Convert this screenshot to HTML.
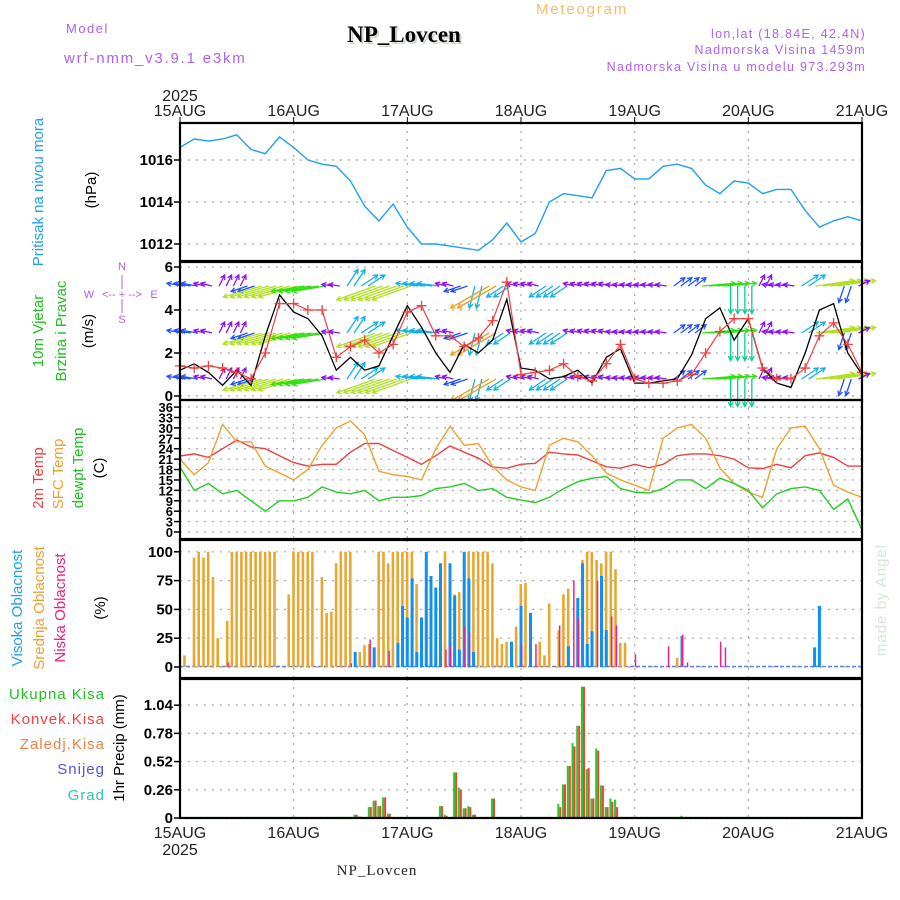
<!DOCTYPE html>
<html><head><meta charset="utf-8"><style>
html,body{margin:0;padding:0;background:#fff;}
svg{display:block;font-family:"Liberation Sans",sans-serif;}
</style></head><body>
<svg id="chart" width="900" height="900" viewBox="0 0 900 900" xmlns="http://www.w3.org/2000/svg">
<g>
<text x="66" y="33" font-size="13" fill="#b060f0" letter-spacing="1.5">Model</text>
<text x="64" y="63" font-size="15" fill="#b060f0" letter-spacing="1.8">wrf-nmm_v3.9.1 e3km</text>
<text x="406" y="44" font-size="23" font-weight="bold" font-family="Liberation Serif,serif" fill="#ccd6cc" text-anchor="middle">NP_Lovcen</text>
<text x="404" y="42" font-size="23" font-weight="bold" font-family="Liberation Serif,serif" fill="#000" text-anchor="middle">NP_Lovcen</text>
<text x="582" y="14" font-size="15" fill="#f0c070" letter-spacing="1.8" text-anchor="middle">Meteogram</text>
<text x="866" y="38" font-size="12.5" fill="#b060f0" letter-spacing="1.3" text-anchor="end">lon,lat (18.84E, 42.4N)</text>
<text x="866" y="54" font-size="12.5" fill="#b060f0" letter-spacing="1.3" text-anchor="end">Nadmorska Visina 1459m</text>
<text x="866" y="71" font-size="12.5" fill="#b060f0" letter-spacing="1.3" text-anchor="end">Nadmorska Visina u modelu 973.293m</text>
<text x="180" y="101" font-size="16" fill="#222" text-anchor="middle">2025</text>
<text x="180" y="855" font-size="16" fill="#222" text-anchor="middle">2025</text>
<text x="377" y="875" font-size="15" font-family="Liberation Serif,serif" fill="#222" text-anchor="middle" letter-spacing="1">NP_Lovcen</text>
<text transform="translate(886,600) rotate(-90)" font-size="15" fill="#d8e4d8" text-anchor="middle" letter-spacing="1">made by Angel</text>
</g>
<g id="grid"></g>
<g id="marks"></g>
<g id="axes"></g>
<g font-size="15">
<text transform="translate(43,192) rotate(-90)" fill="#20a0f0" text-anchor="middle">Pritisak na nivou mora</text>
<text transform="translate(96,190) rotate(-90)" fill="#000" text-anchor="middle">(hPa)</text>
<text transform="translate(43,331) rotate(-90)" fill="#20c020" text-anchor="middle">10m Vjetar</text>
<text transform="translate(66,331) rotate(-90)" fill="#20c020" text-anchor="middle">Brzina i Pravac</text>
<text transform="translate(93,331) rotate(-90)" fill="#000" text-anchor="middle">(m/s)</text>
<g fill="#b060f0" font-size="11" text-anchor="middle">
<text x="122" y="270">N</text><text x="122" y="323">S</text><text x="89" y="298">W</text><text x="154" y="298">E</text>
<text x="122" y="298">&lt;-- + --&gt;</text>
<line x1="122" y1="275" x2="122" y2="289" stroke="#b060f0"/><line x1="122" y1="299" x2="122" y2="313" stroke="#b060f0"/>
</g>
<text transform="translate(43,478) rotate(-90)" fill="#f04040" text-anchor="middle">2m Temp</text>
<text transform="translate(63,474) rotate(-90)" fill="#f0a030" text-anchor="middle">SFC Temp</text>
<text transform="translate(83,468) rotate(-90)" fill="#20c020" text-anchor="middle">dewpt Temp</text>
<text transform="translate(104,468) rotate(-90)" fill="#000" text-anchor="middle">(C)</text>
<text transform="translate(22,608) rotate(-90)" fill="#20a0f0" text-anchor="middle">Visoka Oblacnost</text>
<text transform="translate(44,608) rotate(-90)" fill="#f0a030" text-anchor="middle">Srednja Oblacnost</text>
<text transform="translate(65,608) rotate(-90)" fill="#f0207f" text-anchor="middle">Niska Oblacnost</text>
<text transform="translate(105,608) rotate(-90)" fill="#000" text-anchor="middle">(%)</text>
<g text-anchor="end" letter-spacing="1">
<text x="105" y="699" fill="#20c020">Ukupna  Kisa</text>
<text x="105" y="724" fill="#f04040">Konvek.Kisa</text>
<text x="105" y="749" fill="#f08040">Zaledj.Kisa</text>
<text x="105" y="774" fill="#5050f0">Snijeg</text>
<text x="105" y="800" fill="#30c0c0">Grad</text>
</g>
<text transform="translate(124,748) rotate(-90)" fill="#000" text-anchor="middle">1hr Precip (mm)</text>
</g>
</svg>
<script>
// ---- data (3-hourly for lines, hourly for bars) ----
const dayLabels = ["15AUG","16AUG","17AUG","18AUG","19AUG","20AUG","21AUG"];
const pressureTicks = [1012,1014,1016];
const windTicks = [0,2,4,6];
const tempTicks = [0,3,6,9,12,15,18,21,24,27,30,33,36];
const cloudTicks = [0,25,50,75,100];
const precipTicks = ["0","0.26","0.52","0.78","1.04"];
const pressure = [1016.6,1017.0,1016.9,1017.0,1017.2,1016.5,1016.3,1017.1,1016.6,1016.0,1015.8,1015.7,1015.0,1013.8,1013.1,1013.9,1012.8,1012.0,1012.0,1011.9,1011.8,1011.7,1012.2,1013.0,1012.1,1012.5,1014.0,1014.4,1014.3,1014.2,1015.5,1015.6,1015.1,1015.1,1015.7,1015.8,1015.6,1014.8,1014.4,1015.0,1014.9,1014.4,1014.6,1014.6,1013.6,1012.8,1013.1,1013.3,1013.1];
const windSpeed = [1.2,1.5,1.1,0.5,1.2,0.5,2.8,4.7,3.9,3.6,2.8,1.2,1.8,1.2,1.4,2.8,4.2,3.2,2.0,1.1,2.4,2.0,2.6,4.5,1.3,1.2,0.8,0.9,1.2,0.6,1.8,2.2,0.6,0.6,0.7,0.8,1.9,3.6,4.1,2.6,3.6,1.3,0.6,0.4,2.0,4.0,4.3,2.0,1.0];
const windGust = [1.4,1.3,1.4,1.3,1.1,0.8,2.0,4.3,4.3,4.0,4.0,1.8,2.3,2.6,2.0,2.4,3.9,4.2,2.8,2.8,2.3,2.7,3.5,5.3,1.0,1.1,1.2,1.5,0.9,0.7,1.5,2.4,0.8,0.6,0.6,0.7,1.0,2.0,3.0,3.6,3.6,1.3,0.8,0.8,1.3,2.8,3.4,2.4,1.1];
const windU = [-3,-3,-2,1,1,-3,-7,-7,-7,-6,-6,-2,2,3,-7,-7,-7,-4,-4,-2,-3,-1,-7,-3,-2,-2,-3,-3,-2,-2,-2,-2,-2,-2,-2,2,2,6,6,0,0,1,-2,-2,3,7,7,-1,2];
const windV = [0.5,0.5,0.5,2,2,-1,-2,-2,-2,-1,-1,0.3,3,2,-2.5,-2.5,-2.5,0.5,0.5,0.5,-1,-4,-4,-2,0.5,0.5,-2,-2,0.5,0.5,0.5,0.3,0.3,0.3,0.3,1.5,1.5,0.5,0.5,-5,-5,2,0.3,0.3,2,1,1,-3,1];
const temp2m = [21.9,22.5,21.5,24,26.5,24.5,24,22,20,19,19.5,19.5,23,25.5,25.5,23.5,21.5,19.5,22,24.8,23,21.3,18.7,18.4,19.5,19.8,23,22.5,22.2,20.5,18.8,18.4,19.5,18.5,19.5,22,22.5,22.5,22,21,18.5,18.3,19.5,18.5,22,22.8,21.5,19,19];
const tempSfc = [21,16.5,20,31,26,26,19,17,15,18,25,30,32,28,17.5,16.5,16,15,24,30.5,25,25.5,19,15,13,12,25,27,26,22,17,15,13.5,12,27,30,31,27,18.5,14,11.5,10,24,30,30.5,24,13.5,11.5,10];
const dewpt = [18.7,12,14,11,12,9,6,9,9,10,13,11.5,11,12,9,10,10,10.5,12.5,13,14,12,12.5,10,9.2,8.5,10,12.5,14.5,15.5,16,12.5,11.5,11.2,12.5,15,15,12.5,15.5,14,12,7,11,12.5,13,12,6.5,9.5,0.6];
const cloudMid = [0,10,0,95,100,95,100,78,25,0,40,100,100,100,100,100,100,100,100,100,100,0,0,63,100,100,100,100,100,0,78,47,48,90,100,100,100,0,13,19,20,0,100,100,90,100,100,100,100,100,72,21,68,68,10,53,100,27,63,65,67,100,100,100,100,100,90,25,20,22,22,35,72,73,47,0,22,10,55,0,32,63,68,0,50,93,100,100,93,90,100,100,85,21,21,0,0,0,0,0,0,0,0,0,0,8,0,0,0,0,0,0,0,0,0,0,0,0,0,0,0,0,0,0,0,0,0,0,0,0,0,0,0,0,0,0,0,0,0,0,0,0,0,0,0];
const cloudHigh = [0,0,0,0,0,0,0,0,0,0,0,0,0,0,0,0,0,0,0,0,0,0,0,0,0,0,0,0,0,0,0,0,0,0,0,0,0,13,0,0,0,17,0,0,0,0,21,53,43,77,13,43,100,79,69,90,0,90,62,15,100,77,13,0,0,0,0,0,0,0,22,0,53,0,47,0,0,0,0,0,0,0,18,0,60,90,20,31,0,79,32,0,0,0,0,0,0,0,0,0,0,0,0,0,0,0,27,0,0,0,0,0,0,0,0,0,0,0,0,0,0,0,0,0,0,0,0,0,0,0,0,0,0,0,17,53,0,0,0,0,0];
const cloudLow = [0,0,0,0,0,0,0,0,0,0,4,0,0,0,0,0,0,0,0,0,0,0,0,0,0,0,0,0,0,0,0,0,0,0,0,0,3,0,0,0,24,0,0,0,14,0,0,0,0,0,0,0,0,0,0,0,15,18,0,0,35,30,0,0,0,0,0,0,0,0,0,0,20,0,0,20,0,0,0,0,36,0,0,75,42,0,0,0,75,0,0,44,36,0,0,0,11,0,0,0,0,0,0,18,0,0,28,4,0,0,0,0,0,0,22,17,0,0,0,0,0,0,0,0,0,0,1,0,0,0,0,0,0,0,0,0,0,0,0,0,0];
const precipTotal = [0,0,0,0,0,0,0,0,0,0,0,0,0,0,0,0,0,0,0,0,0,0,0,0,0,0,0,0,0,0,0,0,0,0,0.01,0,0,0.03,0.015,0,0.1,0.16,0.11,0.19,0.04,0,0,0,0,0,0,0,0,0,0,0.11,0.03,0,0.42,0.28,0.09,0.11,0.03,0,0,0,0.18,0,0,0,0,0,0,0,0,0,0,0,0,0,0.13,0.31,0.48,0.69,0.85,1.21,0.45,0.18,0.64,0.3,0.1,0.18,0.17,0,0,0,0,0,0,0,0,0,0,0,0,0,0.02,0,0,0,0,0,0,0,0,0,0,0,0,0,0,0,0,0,0,0,0,0,0,0,0,0,0,0,0,0,0,0,0,0,0,0,0,0,0,0,0,0,0,0];
const precipConv = [0,0,0,0,0,0,0,0,0,0,0,0,0,0,0,0,0,0,0,0,0,0,0,0,0,0,0,0,0,0,0,0,0,0,0,0,0,0.03,0.01,0,0.1,0.16,0.11,0.19,0.04,0,0,0,0,0,0,0,0,0,0,0.11,0.02,0,0.42,0.26,0.09,0.1,0.03,0,0,0,0.18,0,0,0,0,0,0,0,0,0,0,0,0,0,0.1,0.31,0.48,0.66,0.85,1.21,0.46,0.18,0.62,0.3,0.1,0.15,0.1,0,0,0,0,0,0,0,0,0,0,0,0,0,0.01,0,0,0,0,0,0,0,0,0,0,0,0,0,0,0,0,0,0,0,0,0,0,0,0,0,0,0,0,0,0,0,0,0,0,0,0,0,0,0,0,0,0,0];

// ---- scales ----
const X0=180, X1=862, HOURS=144;
const xh = h => X0 + h*(X1-X0)/HOURS;
const x3 = i => xh(i*3);
const yP = p => 160 - (p-1016)*21;
const yW = s => 396 - s*21.5;
const yT = t => 532 - t*3.47;
const yC = c => 667 - c*1.152;
const yR = p => 818 - p*108.5;
const panels = [[123,261],[262,400],[400,539],[540,678],[679,818]];
const NS="http://www.w3.org/2000/svg";
function mk(tag, attrs, parent){const e=document.createElementNS(NS,tag);for(const k in attrs)e.setAttribute(k,attrs[k]);parent.appendChild(e);return e;}
const grid=document.getElementById('grid'), marks=document.getElementById('marks'), axes=document.getElementById('axes');
const dash={stroke:"#a8a8a8","stroke-width":1.2,"stroke-dasharray":"2 6"};

dayLabels.forEach((d,i)=>{
  const x=xh(i*24);
  panels.forEach(p=>{ if(i>0&&i<6){const l=mk('line',Object.assign({x1:x,x2:x,y1:p[0],y2:p[1]},dash),grid);
    
    }});
  const t1=mk('text',{x:x,y:116,'font-size':16,'text-anchor':'middle',fill:'#222'},axes);t1.textContent=d;
  
  
  const t2=mk('text',{x:x,y:838,'font-size':16,'text-anchor':'middle',fill:'#222'},axes);t2.textContent=d;
  
  
  const tk=mk('line',{x1:x,x2:x,y1:117,y2:123,stroke:'#000'},axes);
  
  
});
function yTicks(vals, fy, fs){
  vals.forEach(v=>{
    const y=fy(parseFloat(v));
    const g=mk('line',Object.assign({x1:X0,x2:X1,y1:y,y2:y},dash),grid);
    
    
    mk('line',{x1:X0-6,x2:X0,y1:y,y2:y,stroke:'#000','stroke-width':1.5},axes);
    const t=mk('text',{x:X0-7,y:y+5,'font-size':fs||15,'text-anchor':'end',fill:'#000','font-weight':'bold'},axes);
    t.textContent=v;
    
    
  });
}
yTicks(pressureTicks,yP);
yTicks(windTicks,yW);
yTicks(tempTicks,yT,13);
yTicks(cloudTicks,yC);
yTicks(precipTicks,yR);

function line(arr, fy, color, name, w){
  const pts=arr.map((v,i)=>x3(i).toFixed(1)+','+fy(v).toFixed(1)).join(' ');
  const p=mk('polyline',{points:pts,fill:'none',stroke:color,'stroke-width':w||1.4},marks);
  
  
}
line(pressure,yP,'#20a0f0','pressure-line');

function windColor(s){ if(s<2.5)return '#8a10f0'; if(s<3.5)return '#2050ff'; if(s<4.5)return '#10b0e8'; if(s<5.5)return '#00d090'; if(s<6.5)return '#30e010'; if(s<7.5)return '#b0e020'; return '#f0a020';}
const rows=[286,333,379];
rows.forEach(ry=>{
  windU.forEach((u,i)=>{
    const v=windV[i], s=Math.hypot(u,v), col=windColor(s);
    for(let k=0;k<2;k++){
      const bx=x3(i)+(k-0.5)*7; if(bx<X0||bx>X1)continue;
      const ex=bx+u*5.5, ey=ry-v*5.5;
      const a=mk('line',{x1:bx,y1:ry,x2:ex,y2:ey,stroke:col,'stroke-width':1.3},marks);
      
      
      const ang=Math.atan2(ey-ry,ex-bx);
      const h=mk('polyline',{points:`${ex-5*Math.cos(ang-0.5)},${ey-5*Math.sin(ang-0.5)} ${ex},${ey} ${ex-5*Math.cos(ang+0.5)},${ey-5*Math.sin(ang+0.5)}`,fill:'none',stroke:col,'stroke-width':1.3},marks);
      
      
    }
  });
});
line(windSpeed,yW,'#000','wind-speed-line',1.3);
line(windGust,yW,'#f04040','wind-gust-line',1.2);
windGust.forEach((v,i)=>{
  const x=x3(i), y=yW(v);
  const m=mk('path',{d:`M${x-5},${y}H${x+5}M${x},${y-5}V${y+5}`,stroke:'#f04040','stroke-width':1.3},marks);
  
  
});

line(temp2m,yT,'#f04040','temp-2m-line');
line(tempSfc,yT,'#f0a030','temp-sfc-line');
line(dewpt,yT,'#20d020','dewpoint-line');

function bars(arr, fy, color, name, off, w){
  arr.forEach((v,h)=>{
    if(v<=0) return;
    const x=xh(h)+off;
    const y=fy(v), y0=fy(0);
    const b=mk('rect',{x:x.toFixed(1),y:y.toFixed(1),width:w,height:Math.max(1,y0-y).toFixed(1),fill:color},marks);
    
    
  });
}
// baseline strips
const bl=mk('line',{x1:X0,x2:X1,y1:666.5,y2:666.5,stroke:'#6080f0','stroke-width':1.5,'stroke-dasharray':'4 2'},marks);


const bl2=mk('line',{x1:X0,x2:X1,y1:817.5,y2:817.5,stroke:'#20d020','stroke-width':1.2,'stroke-dasharray':'3 2'},marks);


bars(cloudMid,yC,'#e8a830','cloud-mid-bar',-1.5,2.6);
bars(cloudHigh,yC,'#1090f0','cloud-high-bar',-1.5,3);
bars(cloudLow,yC,'#f0208a','cloud-low-bar',0,1.5);
bars(precipTotal,yR,'#20d020','precip-total-bar',-1.6,2);
bars(precipConv,yR,'#f04040','precip-convective-bar',0.4,2);

panels.forEach(p=>{
  const r=mk('rect',{x:X0,y:p[0],width:X1-X0,height:p[1]-p[0],fill:'none',stroke:'#000','stroke-width':2.2},axes);
  
  
});
</script>
</body></html>
